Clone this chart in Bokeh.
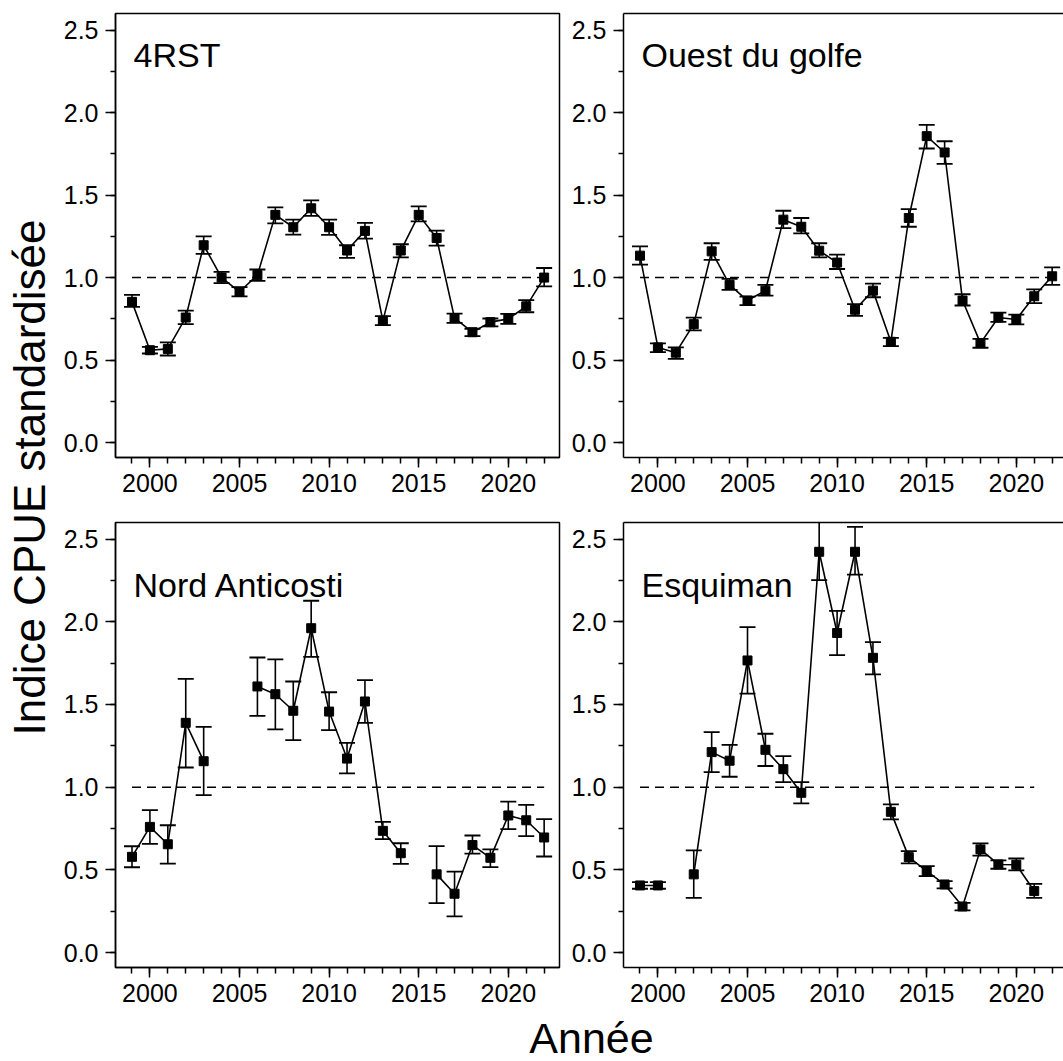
import math
from bokeh.plotting import figure
from bokeh.layouts import row, column
from bokeh.models import (SingleIntervalTicker, FixedTicker, LinearAxis, Label,
                          NumeralTickFormatter, Range1d)
from bokeh.embed import file_html
from bokeh.resources import INLINE

nan = float("nan")

years = list(range(1999, 2023))

panel_names = ["4RST", "Ouest du golfe", "Nord Anticosti", "Esquiman"]

rst = [0.853, 0.56, 0.568, 0.758, 1.196, 1.0, 0.914, 1.015, 1.38, 1.305, 1.42, 1.305,
       1.164, 1.283, 0.738, 1.164, 1.38, 1.24, 0.754, 0.669, 0.73, 0.75, 0.826, 1.0]
rst_lo = [0.822, 0.54, 0.528, 0.718, 1.144, 0.966, 0.886, 0.98, 1.329, 1.26, 1.374, 1.259,
          1.12, 1.236, 0.712, 1.123, 1.341, 1.194, 0.726, 0.645, 0.705, 0.72, 0.79, 0.947]
rst_hi = [0.895, 0.58, 0.607, 0.80, 1.25, 1.035, 0.942, 1.049, 1.426, 1.351, 1.468, 1.351,
          1.196, 1.331, 0.766, 1.202, 1.432, 1.285, 0.782, 0.69, 0.752, 0.78, 0.863, 1.058]

ouest = [1.133, 0.577, 0.545, 0.718, 1.159, 0.956, 0.861, 0.921, 1.351, 1.308, 1.163, 1.091,
         0.805, 0.921, 0.611, 1.361, 1.857, 1.758, 0.861, 0.603, 0.758, 0.746, 0.887, 1.008]
ouest_lo = [1.079, 0.549, 0.508, 0.680, 1.107, 0.925, 0.833, 0.891, 1.300, 1.268, 1.123, 1.052,
            0.768, 0.881, 0.585, 1.308, 1.782, 1.689, 0.831, 0.575, 0.732, 0.716, 0.845, 0.956]
ouest_hi = [1.189, 0.601, 0.577, 0.758, 1.208, 0.992, 0.885, 0.956, 1.405, 1.361, 1.208, 1.139,
            0.839, 0.964, 0.635, 1.415, 1.925, 1.826, 0.899, 0.629, 0.788, 0.776, 0.929, 1.062]

nord = [0.579, 0.760, 0.655, 1.389, 1.157, nan, nan, 1.609, 1.562, 1.462, 1.961, 1.457,
        1.173, 1.518, 0.736, 0.601, nan, 0.473, 0.356, 0.650, 0.573, 0.829, 0.800, 0.696]
nord_lo = [0.516, 0.657, 0.538, 1.119, 0.952, nan, nan, 1.431, 1.349, 1.284, 1.788, 1.345,
           1.083, 1.389, 0.686, 0.536, nan, 0.299, 0.219, 0.598, 0.517, 0.746, 0.704, 0.581]
nord_hi = [0.643, 0.861, 0.770, 1.655, 1.365, nan, nan, 1.784, 1.772, 1.639, 2.127, 1.574,
           1.268, 1.647, 0.790, 0.661, nan, 0.644, 0.489, 0.708, 0.624, 0.913, 0.893, 0.807]

esq = [0.406, 0.406, nan, 0.473, 1.212, 1.160, 1.766, 1.226, 1.109, 0.966, 2.423, 1.932,
       2.423, 1.782, 0.851, 0.577, 0.493, 0.412, 0.279, 0.624, 0.533, 0.531, 0.372, nan]
esq_lo = [0.386, 0.386, nan, 0.331, 1.091, 1.063, 1.565, 1.128, 1.031, 0.902, 2.252, 1.798,
          2.285, 1.682, 0.805, 0.539, 0.462, 0.388, 0.255, 0.586, 0.507, 0.497, 0.331, nan]
esq_hi = [0.426, 0.426, nan, 0.618, 1.333, 1.256, 1.968, 1.323, 1.188, 1.031, 2.62, 2.066,
          2.573, 1.877, 0.896, 0.614, 0.523, 0.432, 0.301, 0.660, 0.557, 0.569, 0.416, nan]

ref_level = 1.0
y_label = "Indice CPUE standardisée"
x_label = "Année"

FONT = "Liberation Sans"
X_START = 1998.08
PX_PER_YEAR = 17.92
Y_START, Y_END = -0.09, 2.6


def make_panel(name, vals, lo, hi, col, bottom_row):
    frame_w = 444 if col == 0 else 440
    x_end = X_START + frame_w / PX_PER_YEAR
    mbr = 2 if col == 0 else 0
    mbt = 5 if bottom_row else 13
    mbb = 45 if bottom_row else 60
    frame_h = 445 if bottom_row else 444
    p = figure(width=62 + frame_w + mbr, height=mbt + frame_h + mbb,
               x_range=Range1d(X_START, x_end), y_range=Range1d(Y_START, Y_END),
               min_border_left=62, min_border_right=mbr, min_border_top=mbt,
               min_border_bottom=mbb, toolbar_location=None, output_backend="svg",
               background_fill_color="white", border_fill_color="white")
    p.xgrid.visible = False
    p.ygrid.visible = False
    p.outline_line_color = "black" if col == 0 else None
    p.outline_line_width = 1.5

    xa = p.below[0]
    xa.ticker = SingleIntervalTicker(interval=5, num_minor_ticks=5)
    ya = p.left[0]
    ya.ticker = SingleIntervalTicker(interval=0.5, num_minor_ticks=2)
    ya.formatter = NumeralTickFormatter(format="0.0")
    for ax, mt in ((xa, 6), (ya, 5)):
        ax.axis_line_width = 1.5
        ax.axis_line_color = "black"
        ax.major_tick_line_width = 1.5
        ax.minor_tick_line_width = 1.5
        ax.major_tick_line_color = "black"
        ax.minor_tick_line_color = "black"
        ax.major_tick_in = 0
        ax.minor_tick_in = 0
        ax.major_tick_out = 10
        ax.minor_tick_out = mt
        ax.major_label_text_font = FONT
        ax.major_label_text_font_size = "25px"
        ax.major_label_text_color = "black"
    xa.major_label_standoff = 6
    ya.major_label_standoff = 7

    if col == 1:
        top = LinearAxis(ticker=FixedTicker(ticks=[]), axis_line_width=1.5,
                         axis_line_color="black", major_tick_line_color=None,
                         minor_tick_line_color=None, major_label_standoff=0,
                         major_tick_out=0, minor_tick_out=0, major_tick_in=0,
                         minor_tick_in=0)
        p.add_layout(top, "above")

    valid = [i for i, v in enumerate(vals) if not math.isnan(v)]
    yrs = [years[i] for i in valid]
    first, last = yrs[0], yrs[-1]
    p.line([first, last], [ref_level, ref_level], line_color="black",
           line_width=1.5, line_dash="9 6")
    p.line(years, vals, line_color="black", line_width=1.6)
    vlo = [lo[i] for i in valid]
    vhi = [hi[i] for i in valid]
    p.segment(x0=yrs, y0=vlo, x1=yrs, y1=vhi, line_color="black", line_width=1.6)
    p.scatter(yrs, vlo, marker="dash", size=16, line_color="black", line_width=1.8)
    p.scatter(yrs, vhi, marker="dash", size=16, line_color="black", line_width=1.8)
    p.scatter(yrs, [vals[i] for i in valid], marker="square", size=9,
              fill_color="black", line_color="black")

    p.add_layout(Label(x=X_START + 18 / PX_PER_YEAR, y=(2.225 if bottom_row else 2.35),
                       text=name, text_font=FONT, text_font_size="34px",
                       text_color="black", text_baseline="middle", text_align="left"))
    return p


tl = make_panel(panel_names[0], rst, rst_lo, rst_hi, 0, False)
tr = make_panel(panel_names[1], ouest, ouest_lo, ouest_hi, 1, False)
bl = make_panel(panel_names[2], nord, nord_lo, nord_hi, 0, True)
br = make_panel(panel_names[3], esq, esq_lo, esq_hi, 1, True)

# y label strip (page coords: x 0..53, y 0..1012)
ylab = figure(width=53, height=1012, x_range=Range1d(0, 53), y_range=Range1d(1012, 0),
              min_border=0, toolbar_location=None, output_backend="svg",
              outline_line_color=None)
ylab.axis.visible = False
ylab.grid.visible = False
ylab.add_layout(Label(x=28.5, y=477, text=y_label, angle=math.pi / 2,
                      text_font=FONT, text_font_size="44px", text_color="black",
                      text_align="center", text_baseline="middle"))

# x label strip (page coords: x 0..1063, y 1012..1061)
xlab = figure(width=1063, height=49, x_range=Range1d(0, 1063), y_range=Range1d(1061, 1012),
              min_border=0, toolbar_location=None, output_backend="svg",
              outline_line_color=None)
xlab.axis.visible = False
xlab.grid.visible = False
xlab.add_layout(Label(x=591, y=1037, text=x_label,
                      text_font=FONT, text_font_size="43px", text_color="black",
                      text_align="center", text_baseline="middle"))

layout = column(row(ylab, column(tl, bl), column(tr, br)), xlab)

open("out.html", "w").write(file_html(layout, INLINE))
